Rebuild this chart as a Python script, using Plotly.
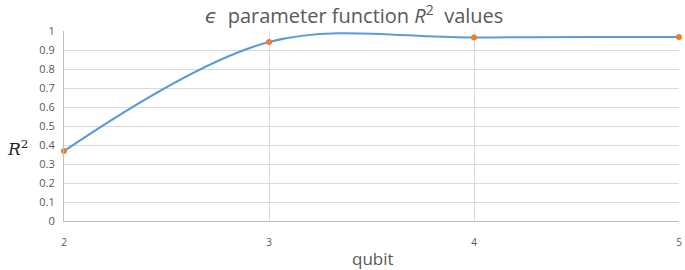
import plotly.graph_objects as go

qubit = [2, 3, 4, 5]
r2_values = [0.368, 0.942, 0.966, 0.968]
y_ticks = [0, 0.1, 0.2, 0.3, 0.4, 0.5, 0.6, 0.7, 0.8, 0.9, 1]
y_tick_labels = ["0", "0.1", "0.2", "0.3", "0.4", "0.5", "0.6", "0.7", "0.8", "0.9", "1"]

W, H = 685, 270
L, R, T, B = 64, 6, 31, 49
pw, ph = W - L - R, H - T - B

def px(x):
    return (x - L) / pw

def py(y):
    return (H - B - y) / ph

fig = go.Figure()
fig.add_trace(go.Scatter(
    x=qubit, y=r2_values, mode="lines",
    line=dict(color="#5B9BD5", width=2, shape="spline", smoothing=1.0),
    showlegend=False, hoverinfo="skip"))
fig.add_trace(go.Scatter(
    x=qubit, y=r2_values, mode="markers",
    marker=dict(color="#ED7D31", size=6),
    showlegend=False, cliponaxis=False))

font_family = "Open Sans, DejaVu Sans, sans-serif"
fig.update_layout(
    width=W, height=H,
    margin=dict(l=L, r=R, t=T, b=B, autoexpand=False),
    paper_bgcolor="white", plot_bgcolor="white",
    font=dict(family=font_family, color="#595959", size=11),
    xaxis=dict(range=[2, 5], tickvals=qubit, ticktext=[str(q) for q in qubit],
               showgrid=True, gridcolor="#D9D9D9", gridwidth=1,
               showline=True, linecolor="#BFBFBF", linewidth=1,
               zeroline=False, ticks="", ticklabelstandoff=12, automargin=False,
               tickfont=dict(size=10, color="#595959")),
    yaxis=dict(range=[0, 1], tickvals=y_ticks, ticktext=y_tick_labels,
               showgrid=True, gridcolor="#D9D9D9", gridwidth=1,
               showline=True, linecolor="#BFBFBF", linewidth=1,
               zeroline=False, ticks="", ticklabelstandoff=6, automargin=False,
               tickfont=dict(size=11, color="#595959")),
    annotations=[
        dict(text="<i>ϵ</i>  parameter function <i>R</i><sup>2</sup>  values",
             x=px(354), y=py(15), xref="paper", yref="paper", xanchor="center", yanchor="middle",
             showarrow=False, font=dict(size=20, color="#595959", family=font_family)),
        dict(text="qubit", x=px(373), y=py(258), xref="paper", yref="paper",
             xanchor="center", yanchor="middle", showarrow=False,
             font=dict(size=17, color="#595959", family=font_family)),
        dict(text="<i>R</i><sup>2</sup>", x=px(17), y=py(148), xref="paper", yref="paper",
             xanchor="center", yanchor="middle", showarrow=False,
             font=dict(size=17, color="#262626", family="DejaVu Serif")),
    ],
)
fig.write_html("out.html", config={"displayModeBar": False},
               post_script="document.body.style.margin='0';document.body.style.overflow='hidden';")
